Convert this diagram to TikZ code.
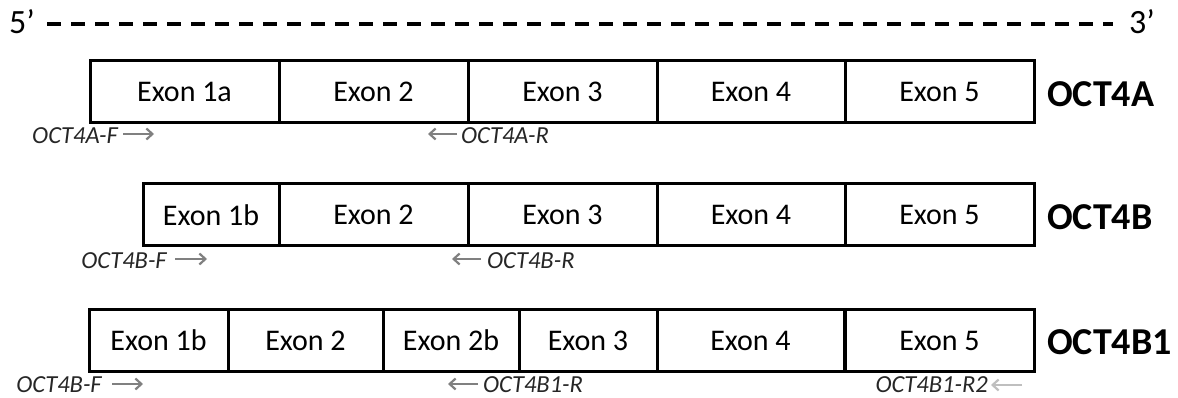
\documentclass[tikz,border=0pt]{standalone}
\usepackage{fontspec}
\setmainfont{Carlito}
\usetikzlibrary{arrows.meta}
\begin{document}
\begin{tikzpicture}[x=1pt,y=-1pt,
  exon/.style={draw, line width=3pt, rectangle, minimum height=62pt, inner sep=0pt,
    font=\fontsize{30}{34}\selectfont},
  iso/.style={anchor=west, inner sep=0pt, font=\fontsize{38}{42}\selectfont\bfseries},
  primer/.style={inner sep=0pt, text=black!85, font=\fontsize{24.5}{28}\selectfont\itshape},
  parr/.style={draw=black!50, line width=2.2pt, -{Straight Barb[length=6pt,width=11pt]}},
  parrlight/.style={parr, draw=black!25},
  endlbl/.style={inner sep=0pt, font=\fontsize{34}{40}\selectfont}]
\useasboundingbox (0,0) rectangle (1178,398);

% strand direction
\node[endlbl] (p5) at (22,22) {5’};
\node[endlbl] (p3) at (1142,22) {3’};
\coordinate (ds) at (47,24);
\coordinate (de) at (1113,24);
\draw[line width=3.8pt, dash pattern=on 14pt off 10pt] (ds) -- (de);

% OCT4A
\node[exon, minimum width=189pt] (a1) at (184.5,92) {Exon 1a};
\node[exon, minimum width=189pt] (a2) at (373.5,92) {Exon 2};
\node[exon, minimum width=189pt] (a3) at (562.5,92) {Exon 3};
\node[exon, minimum width=188pt] (a4) at (751,92) {Exon 4};
\node[exon, minimum width=189pt] (a5) at (939.5,92) {Exon 5};
\node[iso] (la) at (1047,94) {OCT4A};

\node[primer, anchor=east] (afT) at (118,136) {OCT4A-F};
\coordinate (af1) at (123,134); \coordinate (af2) at (154,134);
\draw[parr] (af1) -- (af2);
\node[primer, anchor=west] (arT) at (461,136) {OCT4A-R};
\coordinate (ar1) at (457,134); \coordinate (ar2) at (428,134);
\draw[parr] (ar1) -- (ar2);

% OCT4B
\node[exon, minimum width=136pt] (b1) at (211,215) {Exon 1b};
\node[exon, minimum width=189pt] (b2) at (373.5,215) {Exon 2};
\node[exon, minimum width=189pt] (b3) at (562.5,215) {Exon 3};
\node[exon, minimum width=188pt] (b4) at (751,215) {Exon 4};
\node[exon, minimum width=189pt] (b5) at (939.5,215) {Exon 5};
\node[iso] (lb) at (1047,217) {OCT4B};

\node[primer, anchor=east] (bfT) at (167,261) {OCT4B-F};
\coordinate (bf1) at (175,259); \coordinate (bf2) at (207,259);
\draw[parr] (bf1) -- (bf2);
\node[primer, anchor=west] (brT) at (487,261) {OCT4B-R};
\coordinate (br1) at (481,259); \coordinate (br2) at (452,259);
\draw[parr] (br1) -- (br2);

% OCT4B1
\node[exon, minimum width=139pt] (c1) at (158.5,340.5) {Exon 1b};
\node[exon, minimum width=155pt] (c2) at (305.5,340.5) {Exon 2};
\node[exon, minimum width=136pt] (c3) at (451,340.5) {Exon 2b};
\node[exon, minimum width=138pt] (c4) at (588,340.5) {Exon 3};
\node[exon, minimum width=187pt] (c5) at (750.5,340.5) {Exon 4};
\node[exon, minimum width=189pt] (c6) at (939.5,340.5) {Exon 5};
\node[iso] (lc) at (1047,342) {OCT4B1};

\node[primer, anchor=east] (cfT) at (102,385) {OCT4B-F};
\coordinate (cf1) at (112,384); \coordinate (cf2) at (143,384);
\draw[parr] (cf1) -- (cf2);
\node[primer, anchor=west] (crT) at (483,385) {OCT4B1-R};
\coordinate (cr1) at (478,384); \coordinate (cr2) at (448,384);
\draw[parr] (cr1) -- (cr2);
\node[primer, anchor=east] (cr2T) at (988,385) {OCT4B1-R2};
\coordinate (cs1) at (1022,385); \coordinate (cs2) at (991,385);
\draw[parrlight] (cs1) -- (cs2);
\end{tikzpicture}
\end{document}
